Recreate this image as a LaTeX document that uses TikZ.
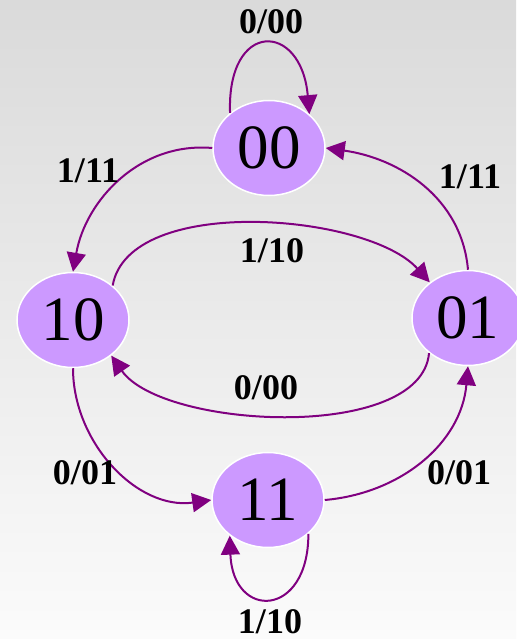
\documentclass[tikz,border=0pt]{standalone}
\usepackage{fontspec}
\setmainfont{Liberation Serif}
\usetikzlibrary{shapes.geometric,arrows.meta}
\definecolor{statefill}{HTML}{CC99FF}
\definecolor{edgecol}{HTML}{800080}
\definecolor{bgtop}{HTML}{DADADA}
\definecolor{bgbot}{HTML}{FBFBFB}
\tikzset{
	statenode/.style = {ellipse, fill=statefill, draw=white, line width=0.75pt, minimum width=56pt, minimum height=47.5pt, inner sep=0pt, font=\fontsize{31.5}{31.5}\selectfont},
	trans/.style = {draw=edgecol, line width=1pt, -{Triangle[length=9.5pt,width=9.5pt]}},
	outlbl/.style = {inner sep=0pt, font=\fontsize{18}{18}\selectfont\bfseries}
}

\begin{document}
\begin{tikzpicture}[x=0.5pt, y=0.5pt]
\fill [top color=bgtop, bottom color=bgbot] (0,0) rectangle (516,639);
\useasboundingbox (0,0) rectangle (516,639);

\node [statenode] (s00) at (269,491) {00};
\node [statenode] (s10) at (73,319) {10};
\node [statenode] (s01) at (468,321) {01};
\node [statenode] (s11) at (268,139) {11};

\draw [trans] (s00.138) to[out=92, in=95, looseness=3] (s00.40);
\draw [trans] (s00.west) to[out=175, in=80] (s10.north);
\draw [trans] (s01.north) to[out=95, in=-8] (s00.east);
\draw [trans] (s10.41) to[out=80, in=132, looseness=0.75] (s01.137);
\draw [trans] (s01.222) to[out=-95, in=-55, looseness=0.72] (s10.317);
\draw [trans] (s10.south) to[out=-90, in=188] (s11.west);
\draw [trans] (s11.east) to[out=5, in=-95] (s01.south);
\draw [trans] (s11.320) to[out=-90, in=-88, looseness=2.75] (s11.223);

\node [outlbl] (l00a) at (271,617) {0/00};
\node [outlbl] (l11a) at (88,468) {1/11};
\node [outlbl] (l11b) at (470,462) {1/11};
\node [outlbl] (l10a) at (272,388) {1/10};
\node [outlbl] (l00b) at (266,251) {0/00};
\node [outlbl] (l01a) at (85,166) {0/01};
\node [outlbl] (l01b) at (459,166) {0/01};
\node [outlbl] (l10b) at (270,17) {1/10};
\end{tikzpicture}
\end{document}
